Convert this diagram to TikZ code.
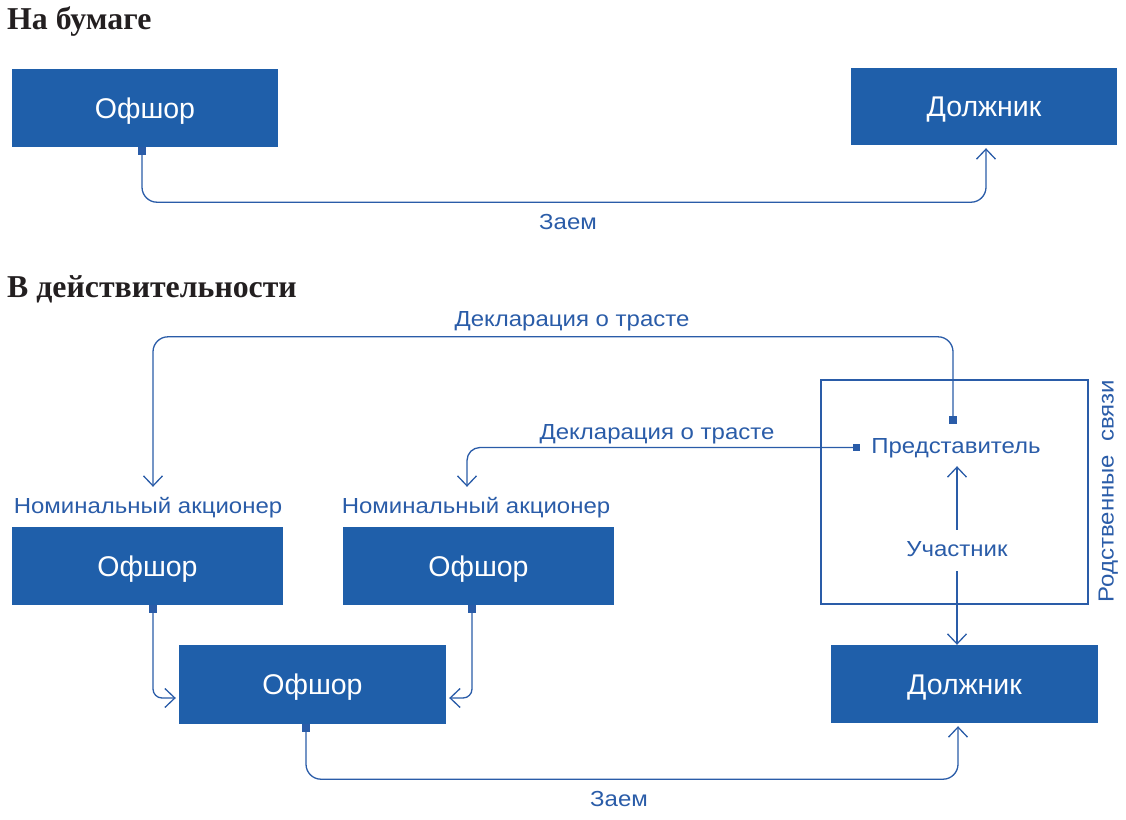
\documentclass[tikz,border=0pt]{standalone}
\usepackage{fontspec}
\newfontfamily\lab[FakeStretch=1.1]{Liberation Sans}
\newfontfamily\boxf{Liberation Sans}
\newfontfamily\headf{Liberation Serif}
\usetikzlibrary{arrows.meta,calc}
\definecolor{boxblue}{RGB}{31,95,170}
\definecolor{lineblue}{RGB}{42,92,168}
\definecolor{headcol}{RGB}{35,31,32}
\tikzset{
  bluebox/.style={fill=boxblue,draw=none,text=white,font=\boxf\fontsize{28.5}{30}\selectfont,inner sep=0pt,text height=20pt,text depth=0pt},
  lbl/.style={text=lineblue,font=\lab\fontsize{21.8}{24}\selectfont,inner sep=0pt,text height=16pt,text depth=5pt},
  head/.style={text=headcol,font=\headf\bfseries\fontsize{31.8}{34}\selectfont,inner sep=0pt,anchor=base west},
  conn/.style={draw=lineblue,line width=1.3pt,{Square[length=7.5pt,width=7.5pt]}-{Straight Barb[length=10pt,width=19pt]}},
  plain/.style={draw=lineblue,line width=1.3pt,-{Straight Barb[length=10pt,width=19pt]}}
}
\begin{document}
\begin{tikzpicture}[x=1pt,y=-1pt]
\useasboundingbox (0,0) rectangle (1126,819);
% headings
\node[head] (h1) at (7,29) {На бумаге};
\node[head] (h2) at (7,297) {В действительности};
% top section
\node[bluebox,minimum width=266pt,minimum height=78pt] (o1) at (145,108) {Офшор};
\node[bluebox,minimum width=266pt,minimum height=77pt] (d1) at (984,106.5) {Должник};
\node[lbl,anchor=base] (z1) at (568,229) {Заем};
\draw[conn,rounded corners=15pt] ([xshift=-3pt]o1.south) |- ([xshift=2pt,yshift=-57pt]d1.south) -- ([xshift=2pt,yshift=-3pt]d1.south);
% bottom section
\draw[draw=lineblue,line width=1.2pt] (821,380) rectangle (1088,604);
\node[lbl,rotate=90,anchor=center] (rel) at (1108,491) {Родственные\ \ связи};
\node[lbl,anchor=base] (pred) at (956,453) {Представитель};
\node[lbl,anchor=base,inner ysep=10pt] (uch) at (957,556) {Участник};
\node[lbl,anchor=base] (nm1) at (148,513) {Номинальный акционер};
\node[lbl,anchor=base] (nm2) at (476,513) {Номинальный акционер};
\node[lbl,anchor=base] (dk1) at (572,326) {Декларация о трасте};
\node[lbl,anchor=base] (dk2) at (657,439) {Декларация о трасте};
\node[lbl,anchor=base] (z2) at (619,806) {Заем};
\node[bluebox,minimum width=271pt,minimum height=78pt] (oa) at (147.5,566) {Офшор};
\node[bluebox,minimum width=271pt,minimum height=78pt] (ob) at (478.5,566) {Офшор};
\node[bluebox,minimum width=267pt,minimum height=79pt] (oc) at (312.5,684.5) {Офшор};
\node[bluebox,minimum width=267pt,minimum height=78pt] (d2) at (964.5,684) {Должник};
% connectors
\draw[conn,rounded corners=15pt] ([xshift=-3pt,yshift=13pt]pred.north) |- ([xshift=5pt,yshift=160pt]nm1.north) -- ([xshift=5pt,yshift=10pt]nm1.north);
\draw[conn,rounded corners=13pt] ([xshift=-11pt,yshift=0pt]pred.west) -| ([xshift=-9pt,yshift=10pt]nm2.north);
\draw[plain] (uch.north) -- ([xshift=1pt,yshift=-8pt]pred.south);
\draw[plain] (uch.south) -- (uch.south |- d2.north);
\draw[conn,rounded corners=9pt] ([xshift=5.5pt]oa.south) |- ([xshift=-3pt,yshift=-13.5pt]oc.west);
\draw[conn,rounded corners=9pt] ([xshift=-6.5pt]ob.south) |- ([xshift=3pt,yshift=-13.5pt]oc.east);
\draw[conn,rounded corners=15pt] ([xshift=-6.5pt]oc.south) |- ([xshift=-6.5pt,yshift=-56pt]d2.south) -- ([xshift=-6.5pt,yshift=-3pt]d2.south);
\end{tikzpicture}
\end{document}
